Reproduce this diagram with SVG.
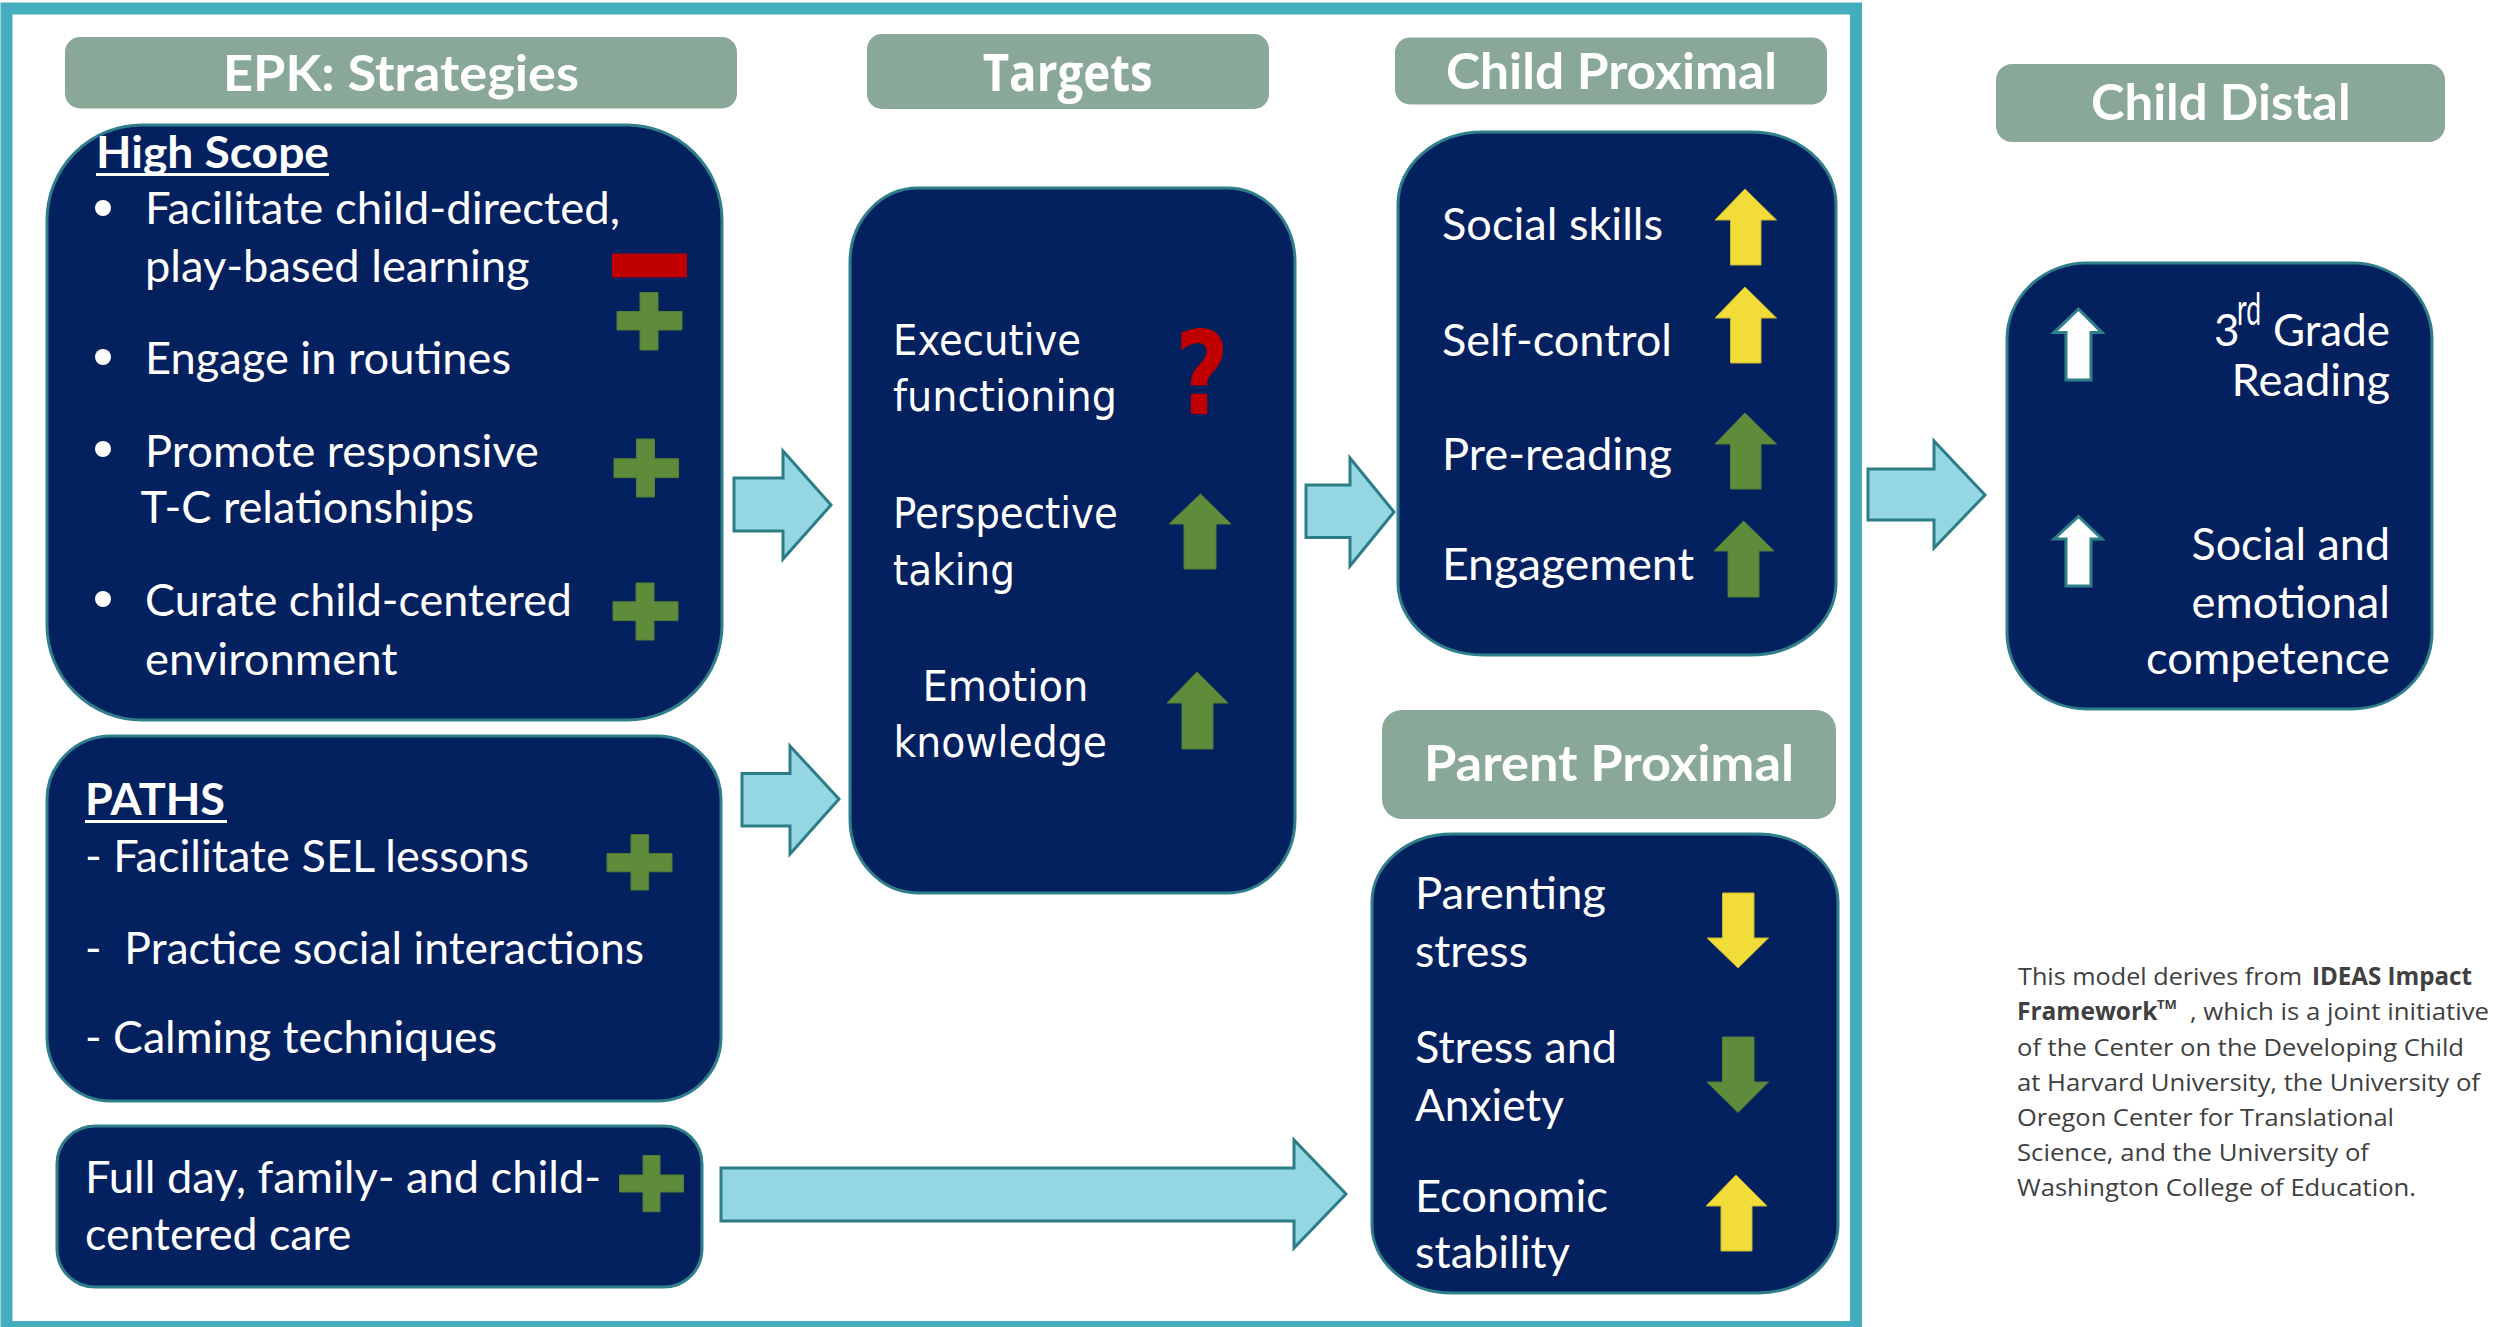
<svg xmlns="http://www.w3.org/2000/svg" width="2504" height="1327" viewBox="0 0 2504 1327">
<style>
.bg{fill:#ffffff}
.frame{fill:none;stroke:#44adbe;stroke-width:12}
.hdr{fill:#89a898}
.hdrt{font-family:Lato,"Open Sans",sans-serif;font-weight:bold;font-size:50px;fill:#ffffff}
.hdrt2{font-family:"Open Sans",Lato,sans-serif;font-weight:bold;font-size:52px;fill:#ffffff}
.box{fill:#03205f;stroke:#2e7f8a;stroke-width:3}
.t{font-family:Lato,"Open Sans",sans-serif;font-size:44px;fill:#ffffff}
.tb{font-family:Lato,"Open Sans",sans-serif;font-size:44px;font-weight:bold;fill:#ffffff}
.tv{font-family:"DejaVu Sans",Verdana,sans-serif;font-size:42px;fill:#ffffff}
.ul{fill:#ffffff}
.grn{fill:#5f8c3b;stroke:#557d35;stroke-width:1}
.yel{fill:#f2dc3a;stroke:#c9b530;stroke-width:1}
.wht{fill:#ffffff;stroke:#2e8088;stroke-width:3}
.red{fill:#c00000}
.conn{fill:#94d7e3;stroke:#2d7d86;stroke-width:3;stroke-linejoin:miter}
.fn{font-family:"Open Sans",Lato,sans-serif;font-size:24.5px;fill:#404040}
.fnb{font-family:"Open Sans",Lato,sans-serif;font-size:24.5px;font-weight:bold;fill:#404040}
</style>
<rect class="bg" x="0" y="0" width="2504" height="1327"/>
<rect class="frame" x="6.5" y="8.5" width="1849.5" height="1318.5"/>

<g id="connectors">
<path class="conn" d="M734,478 H783 V451 L831,505 L783,559 V531 H734 Z"/>
<path class="conn" d="M742,773.5 H790 V746 L839,799 L790,854 V826 H742 Z"/>
<path class="conn" d="M1306,485 H1350 V458 L1394,512 L1350,566 V537.5 H1306 Z"/>
<path class="conn" d="M1868,469 H1934 V441 L1985,495 L1934,548 V520 H1868 Z"/>
<path class="conn" d="M721,1168 H1294 V1140 L1346,1194 L1294,1248 V1221 H721 Z"/>
</g>

<g id="hdr-epk">
<rect class="hdr" x="65" y="37" width="672" height="71.5" rx="15"/>
<text class="hdrt" x="223" y="90.6" textLength="356" lengthAdjust="spacingAndGlyphs">EPK: Strategies</text>
</g>
<g id="hdr-targets">
<rect class="hdr" x="867" y="34" width="402" height="75" rx="15"/>
<text class="hdrt2" x="982.7" y="90.7" textLength="170" lengthAdjust="spacingAndGlyphs">Targets</text>
</g>
<g id="hdr-child-proximal">
<rect class="hdr" x="1395" y="37.5" width="432" height="67" rx="15"/>
<text class="hdrt" x="1446" y="89" textLength="331" lengthAdjust="spacingAndGlyphs">Child Proximal</text>
</g>
<g id="hdr-child-distal">
<rect class="hdr" x="1996" y="64" width="449" height="78" rx="16"/>
<text class="hdrt" x="2091" y="119.6" textLength="259.5" lengthAdjust="spacingAndGlyphs">Child Distal</text>
</g>
<g id="hdr-parent-proximal">
<rect class="hdr" x="1382" y="710" width="454" height="109" rx="20"/>
<text class="hdrt" x="1424" y="781" textLength="370" lengthAdjust="spacingAndGlyphs">Parent Proximal</text>
</g>

<g id="node-highscope">
<rect class="box" x="47" y="125" width="675" height="595" rx="95" ry="95"/>
<text class="tb" x="96" y="167.5" textLength="233" lengthAdjust="spacingAndGlyphs">High Scope</text>
<rect class="ul" x="96" y="173" width="233" height="3"/>
<circle class="ul" cx="103" cy="208" r="8"/>
<circle class="ul" cx="103" cy="357" r="8"/>
<circle class="ul" cx="103" cy="449" r="8"/>
<circle class="ul" cx="103" cy="599" r="8"/>
<text class="t" x="145" y="224" textLength="475" lengthAdjust="spacingAndGlyphs">Facilitate child-directed,</text>
<text class="t" x="145" y="282" textLength="384.6" lengthAdjust="spacingAndGlyphs">play-based learning</text>
<text class="t" x="145" y="374" textLength="366" lengthAdjust="spacingAndGlyphs">Engage in routines</text>
<text class="t" x="145" y="467" textLength="394" lengthAdjust="spacingAndGlyphs">Promote responsive</text>
<text class="t" x="140.6" y="523" textLength="333.4" lengthAdjust="spacingAndGlyphs">T-C relationships</text>
<text class="t" x="145" y="616" textLength="427" lengthAdjust="spacingAndGlyphs">Curate child-centered</text>
<text class="t" x="145" y="675" textLength="252.5" lengthAdjust="spacingAndGlyphs">environment</text>
<rect class="red" x="612" y="253.5" width="75" height="24"/>
<path class="grn" d="M640,292.6 H658 V311.5 H682 V330 H658 V350 H640 V330 H617 V311.5 H640 Z"/>
<path class="grn" d="M636.5,439 H654.5 V458.7 H678.6 V477.6 H654.5 V497 H636.5 V477.6 H614 V458.7 H636.5 Z"/>
<path class="grn" d="M636,583 H654 V601.7 H678 V620.6 H654 V640 H636 V620.6 H613 V601.7 H636 Z"/>
</g>

<g id="node-paths">
<rect class="box" x="47" y="736" width="674" height="365" rx="64" ry="64"/>
<text class="tb" x="85" y="815" textLength="140" lengthAdjust="spacingAndGlyphs">PATHS</text>
<rect class="ul" x="85" y="820" width="142" height="3"/>
<text class="t" x="85" y="872" textLength="444" lengthAdjust="spacingAndGlyphs">- Facilitate SEL lessons</text>
<text class="t" x="85" y="964" textLength="559" lengthAdjust="spacingAndGlyphs" style="white-space:pre">-  Practice social interactions</text>
<text class="t" x="85" y="1053" textLength="412" lengthAdjust="spacingAndGlyphs">- Calming techniques</text>
<path class="grn" d="M631,834.6 H648.6 V853.6 H672 V871.8 H648.6 V890 H631 V871.8 H607 V853.6 H631 Z"/>
</g>

<g id="node-fullday">
<rect class="box" x="57" y="1126" width="645" height="161" rx="38" ry="38"/>
<text class="t" x="85" y="1193" textLength="516" lengthAdjust="spacingAndGlyphs">Full day, family- and child-</text>
<text class="t" x="85" y="1249.6" textLength="266.4" lengthAdjust="spacingAndGlyphs">centered care</text>
<path class="grn" d="M643,1155.5 H660 V1175 H683.5 V1192 H660 V1211.7 H643 V1192 H619.5 V1175 H643 Z"/>
</g>

<g id="node-targets">
<rect class="box" x="850" y="188" width="445" height="705" rx="68" ry="74"/>
<text class="tv" x="893" y="355" textLength="188" lengthAdjust="spacingAndGlyphs">Executive</text>
<text class="tv" x="893" y="411" textLength="224" lengthAdjust="spacingAndGlyphs">functioning</text>
<text class="tv" x="893" y="528" textLength="225" lengthAdjust="spacingAndGlyphs">Perspective</text>
<text class="tv" x="893" y="585" textLength="122" lengthAdjust="spacingAndGlyphs">taking</text>
<text class="tv" x="922.5" y="701" textLength="166" lengthAdjust="spacingAndGlyphs">Emotion</text>
<text class="tv" x="893.5" y="757" textLength="213.5" lengthAdjust="spacingAndGlyphs">knowledge</text>
<text x="1175" y="414" font-family="DejaVu Sans, Verdana, sans-serif" font-weight="bold" font-size="116" fill="#c00000" textLength="54" lengthAdjust="spacingAndGlyphs">?</text>
<path class="grn" d="M1200.5,494 L1231,524 H1216 V569 H1184 V524 H1169 Z"/>
<path class="grn" d="M1197,672 L1228,703 H1213 V749 H1182 V703 H1167 Z"/>
</g>

<g id="node-child-proximal">
<rect class="box" x="1398" y="132" width="438" height="523" rx="85" ry="72"/>
<text class="t" x="1442" y="240" textLength="221" lengthAdjust="spacingAndGlyphs">Social skills</text>
<text class="t" x="1442" y="356" textLength="230" lengthAdjust="spacingAndGlyphs">Self-control</text>
<text class="t" x="1442" y="470" textLength="230" lengthAdjust="spacingAndGlyphs">Pre-reading</text>
<text class="t" x="1442" y="580" textLength="252" lengthAdjust="spacingAndGlyphs">Engagement</text>
<path class="yel" d="M1745,189 L1776.5,220 H1761 V265 H1730.5 V220 H1715 Z"/>
<path class="yel" d="M1745,287 L1776.5,318 H1761 V363 H1730.5 V318 H1715 Z"/>
<path class="grn" d="M1745,413 L1776.5,444 H1761 V489 H1730.5 V444 H1715 Z"/>
<path class="grn" d="M1743.6,521 L1774,551 H1759 V597 H1728 V551 H1714 Z"/>
</g>

<g id="node-parent-proximal">
<rect class="box" x="1372" y="834" width="466" height="459" rx="80" ry="68"/>
<text class="t" x="1415" y="909" textLength="191" lengthAdjust="spacingAndGlyphs">Parenting</text>
<text class="t" x="1415" y="967" textLength="113" lengthAdjust="spacingAndGlyphs">stress</text>
<text class="t" x="1415" y="1063" textLength="202" lengthAdjust="spacingAndGlyphs">Stress and</text>
<text class="t" x="1415" y="1121" textLength="149" lengthAdjust="spacingAndGlyphs">Anxiety</text>
<text class="t" x="1415" y="1212" textLength="193" lengthAdjust="spacingAndGlyphs">Economic</text>
<text class="t" x="1415" y="1268" textLength="155" lengthAdjust="spacingAndGlyphs">stability</text>
<path class="yel" d="M1722.5,893 H1754 V938 H1768.5 L1738,968 L1707,938 H1722.5 Z"/>
<path class="grn" d="M1722.5,1037 H1754 V1082 H1768.5 L1738,1112.5 L1707,1082 H1722.5 Z"/>
<path class="yel" d="M1736,1175 L1767,1206 H1752 V1251 H1721 V1206 H1706 Z"/>
</g>

<g id="node-child-distal">
<rect class="box" x="2007" y="263" width="425" height="446" rx="80" ry="76"/>
<path class="wht" d="M2078.5,309 L2102,332.6 H2091 V380 H2066 V332.6 H2054 Z"/>
<path class="wht" d="M2078.5,516.5 L2102,539 H2091 V586 H2066 V539 H2054 Z"/>
<text class="t" x="2214" y="346">3</text>
<text class="t" x="2237" y="325" font-size="26" textLength="24" lengthAdjust="spacingAndGlyphs">rd</text>
<text class="t" x="2273" y="346" textLength="117" lengthAdjust="spacingAndGlyphs">Grade</text>
<text class="t" x="2231.6" y="396.4" textLength="158.4" lengthAdjust="spacingAndGlyphs">Reading</text>
<text class="t" x="2191.5" y="560" textLength="198.5" lengthAdjust="spacingAndGlyphs">Social and</text>
<text class="t" x="2191.5" y="618" textLength="198.5" lengthAdjust="spacingAndGlyphs">emotional</text>
<text class="t" x="2146" y="674" textLength="244" lengthAdjust="spacingAndGlyphs">competence</text>
</g>

<g id="footnote">
<text class="fn" x="2018" y="985" textLength="284" lengthAdjust="spacingAndGlyphs">This model derives from</text>
<text class="fnb" x="2312" y="985" textLength="160" lengthAdjust="spacingAndGlyphs">IDEAS Impact</text>
<text class="fnb" x="2017" y="1020">Framework<tspan x="2157" dy="-11" font-size="13">TM</tspan></text>
<text class="fn" x="2190" y="1020" textLength="299" lengthAdjust="spacingAndGlyphs">, which is a joint initiative</text>
<text class="fn" x="2017" y="1055.6" textLength="447" lengthAdjust="spacingAndGlyphs">of the Center on the Developing Child</text>
<text class="fn" x="2017" y="1090.6" textLength="463" lengthAdjust="spacingAndGlyphs">at Harvard University, the University of</text>
<text class="fn" x="2017" y="1125.7" textLength="377" lengthAdjust="spacingAndGlyphs">Oregon Center for Translational</text>
<text class="fn" x="2017" y="1160.8" textLength="352" lengthAdjust="spacingAndGlyphs">Science, and the University of</text>
<text class="fn" x="2017" y="1196" textLength="399" lengthAdjust="spacingAndGlyphs">Washington College of Education.</text>
</g>
</svg>
